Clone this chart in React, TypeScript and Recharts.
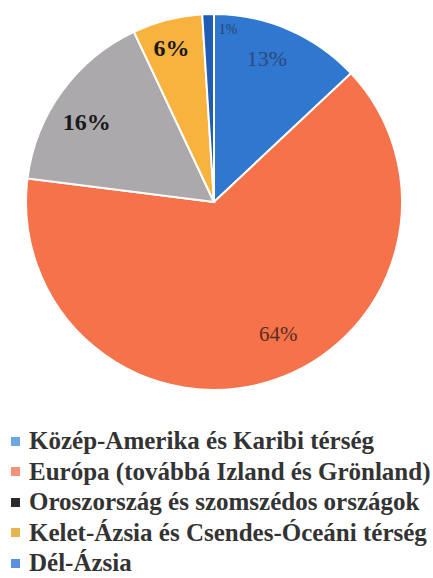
import React from "react";
import { PieChart, Pie, Cell } from "recharts";

const categories = [
  "Közép-Amerika és Karibi térség",
  "Európa (továbbá Izland és Grönland)",
  "Oroszország és szomszédos országok",
  "Kelet-Ázsia és Csendes-Óceáni térség",
  "Dél-Ázsia",
];
const values = [13, 64, 16, 6, 1];
const labels = ["13%", "64%", "16%", "6%", "1%"];

const FONT = "Liberation Serif";

const sliceColors = ["#2f77cf", "#f5724a", "#aba9ab", "#f8b23e", "#1f5cb3"];
const legendColors = ["#6fa6e2", "#f5937a", "#2b2b2b", "#e6b550", "#5a8ee0"];
const labelColors = ["#2c4a7c", "#5a2e1c", "#1a1a1a", "#1a1a1a", "#2a4470"];
const labelWeights = ["normal", "normal", "bold", "bold", "normal"];
const labelSizes = [22, 21, 24, 24, 14];
const labelRadiusFactor = [0.815, 0.78, 0.8, 0.85, 0.92];
const labelAngleShiftCw = [-3.2, -8, -3.7, -1, 6.5];

const data = categories.map((name, i) => ({ name, value: values[i] }));

const RAD = Math.PI / 180;

const renderLabel = (props: any) => {
  const { cx, cy, midAngle, outerRadius, index } = props;
  const r = outerRadius * labelRadiusFactor[index];
  const a = midAngle - labelAngleShiftCw[index];
  const x = cx + r * Math.cos(-a * RAD);
  const y = cy + r * Math.sin(-a * RAD);
  return (
    <text
      x={x}
      y={y}
      fill={labelColors[index]}
      textAnchor="middle"
      dominantBaseline="central"
      style={{ fontFamily: FONT }}
      fontWeight={labelWeights[index]}
      fontSize={labelSizes[index]}
    >
      {labels[index]}
    </text>
  );
};

export default function App() {
  return (
    <div style={{ position: "absolute", left: 0, top: 0, width: 433, height: 578, background: "#fff" }}>
      <PieChart width={433} height={420} margin={{ top: 0, right: 0, bottom: 0, left: 0 }}>
        <Pie
          data={data}
          dataKey="value"
          nameKey="name"
          cx={214}
          cy={202}
          outerRadius={188}
          startAngle={90}
          endAngle={-270}
          stroke="#ffffff"
          strokeWidth={2}
          label={renderLabel}
          labelLine={false}
          isAnimationActive={false}
        >
          {data.map((d, i) => (
            <Cell key={d.name} fill={sliceColors[i]} />
          ))}
        </Pie>
      </PieChart>
      <div
        style={{
          position: "absolute",
          left: 0,
          top: 426,
          width: 433,
          fontFamily: FONT,
        }}
      >
        {categories.map((c, i) => (
          <div
            key={c}
            style={{
              display: "flex",
              alignItems: "center",
              height: 30.5,
              fontSize: 25,
              fontWeight: "bold",
              color: "#333333",
              whiteSpace: "nowrap",
            }}
          >
            <span
              style={{
                display: "inline-block",
                width: 9,
                height: 9,
                background: legendColors[i],
                marginLeft: 11,
                marginRight: 9,
                flexShrink: 0,
              }}
            />
            {c}
          </div>
        ))}
      </div>
    </div>
  );
}
